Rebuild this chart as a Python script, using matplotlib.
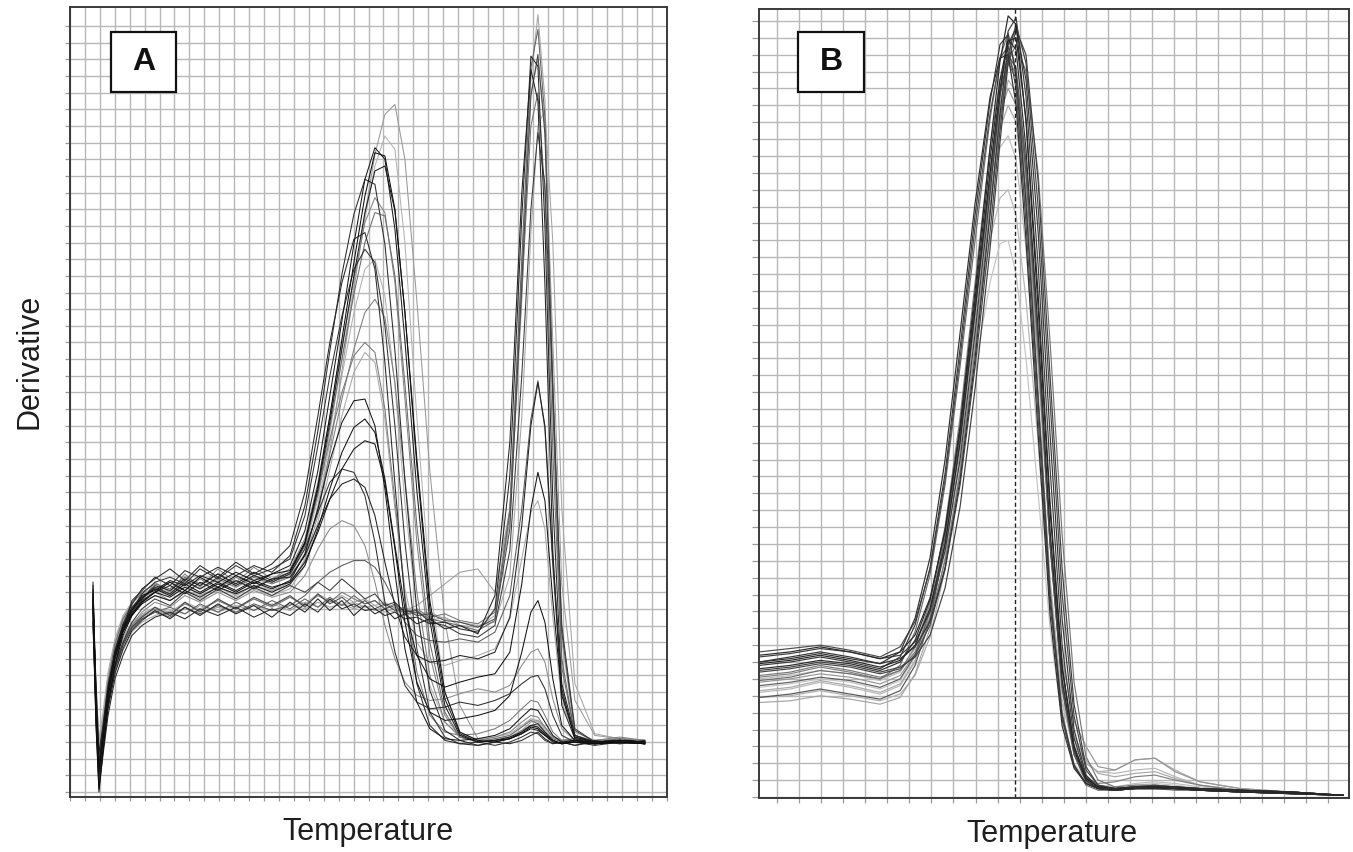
import matplotlib
matplotlib.use("Agg")
import matplotlib.pyplot as plt
from matplotlib.patches import Rectangle

W, H = 1353, 852

# panel A: temperature in grid columns, derivative in grid rows
temp_a = [1.54, 1.74, 1.94, 2.21, 2.55, 3.01, 3.55, 4.15, 4.82, 5.69, 6.70, 7.70, 8.71, 9.91, 11.12,
          12.32, 13.53, 14.74, 15.74, 16.61, 17.41, 18.22, 19.02, 19.76, 20.43, 21.10, 21.77, 22.44,
          23.24, 24.11, 25.12, 26.12, 27.33, 28.47, 29.47, 30.27, 30.88, 31.35, 31.82, 32.35, 32.95,
          33.83, 35.16, 36.84, 38.51]

a01 = [11.2, 6.1, 1.6, 3.4, 6.1, 8.5, 10.0, 10.9, 11.8, 12.1, 12.7, 12.4, 13.0, 12.6, 13.2, 12.7, 13.1, 13.6, 15.7, 19.3, 23.8, 28.3, 32.9, 36.8, 38.7, 38.0, 33.8, 27.1, 18.1, 10.3, 5.2, 3.4, 3.0, 3.1, 3.2, 3.5, 3.8, 3.7, 3.4, 3.1, 2.9, 3.1, 2.9, 3.1, 3.0]
a02 = [12.1, 4.9, 0.4, 2.5, 5.5, 7.6, 9.7, 11.5, 12.1, 12.9, 12.4, 13.3, 12.9, 13.5, 13.0, 13.6, 13.2, 14.2, 17.2, 21.7, 26.5, 31.1, 34.7, 36.8, 36.5, 32.9, 26.5, 18.7, 10.9, 6.1, 3.7, 3.1, 2.8, 3.0, 2.9, 3.1, 3.4, 3.6, 3.2, 2.9, 3.0, 2.8, 3.1, 2.9, 3.1]
a03 = [10.5, 5.0, 2.2, 3.9, 6.6, 8.9, 10.4, 11.3, 12.0, 12.5, 12.2, 12.9, 12.5, 13.1, 12.4, 13.0, 12.6, 13.1, 14.8, 17.9, 21.9, 26.0, 29.9, 33.0, 34.8, 34.6, 31.0, 24.5, 16.0, 9.0, 4.8, 3.3, 3.0, 3.2, 3.4, 3.9, 4.3, 4.1, 3.6, 3.2, 3.0, 3.1, 3.0, 3.2, 3.0]
a04 = [11.5, 6.7, 2.5, 4.0, 6.7, 8.8, 10.3, 11.2, 11.7, 12.0, 11.5, 12.1, 11.8, 12.3, 11.8, 12.4, 12.1, 12.6, 13.9, 16.6, 20.5, 25.3, 30.2, 34.7, 38.3, 40.7, 41.3, 38.0, 29.5, 19.3, 10.3, 5.2, 3.2, 3.1, 3.3, 3.7, 4.2, 4.3, 3.9, 3.3, 3.1, 3.2, 3.0, 3.2, 3.1]
a05 = [11.8, 4.5, 0.9, 3.0, 5.9, 8.0, 9.9, 11.0, 11.9, 12.6, 12.9, 12.5, 13.4, 12.8, 13.6, 13.0, 13.4, 14.0, 16.6, 20.8, 25.0, 28.6, 31.4, 32.6, 31.8, 28.0, 22.0, 15.0, 8.6, 4.8, 3.3, 2.9, 3.0, 2.8, 3.0, 3.3, 3.6, 3.5, 3.1, 2.9, 3.0, 2.8, 3.0, 2.9, 3.0]
a06 = [10.8, 5.6, 1.9, 3.6, 6.3, 8.6, 10.1, 11.1, 11.6, 12.2, 11.9, 12.6, 12.2, 12.8, 12.3, 12.9, 12.5, 12.9, 14.3, 17.0, 20.3, 23.6, 26.6, 28.8, 29.6, 28.5, 24.6, 18.8, 12.0, 7.0, 4.2, 3.3, 3.1, 3.3, 3.6, 4.2, 4.6, 4.5, 3.9, 3.3, 3.1, 3.2, 3.1, 3.3, 3.1]
a07 = [10.6, 5.5, 1.3, 2.8, 5.2, 7.2, 8.5, 9.6, 10.2, 10.6, 10.9, 10.7, 11.2, 10.8, 11.2, 10.9, 11.3, 10.9, 11.4, 11.1, 11.5, 11.2, 11.4, 11.1, 11.2, 10.8, 11.1, 10.6, 10.8, 10.3, 10.5, 10.0, 9.9, 10.6, 16.3, 29.5, 42.8, 46.7, 41.6, 24.7, 9.1, 3.6, 3.1, 3.2, 3.1]
a08 = [10.1, 4.2, 0.2, 2.2, 4.6, 6.8, 8.2, 9.4, 10.0, 10.5, 10.8, 10.4, 11.0, 10.6, 11.1, 10.5, 11.0, 10.6, 11.3, 10.8, 11.6, 11.0, 11.3, 10.9, 11.0, 10.6, 10.8, 10.4, 10.5, 10.1, 10.2, 9.8, 9.6, 11.0, 19.0, 34.5, 44.2, 43.6, 34.0, 17.5, 6.2, 3.2, 2.9, 3.0, 2.9]
a09 = [11.0, 5.9, 2.0, 3.5, 5.8, 7.7, 9.0, 10.0, 10.6, 11.0, 10.7, 11.3, 10.9, 11.5, 11.0, 11.6, 11.1, 11.7, 11.2, 11.8, 11.4, 12.0, 11.6, 11.3, 11.5, 11.0, 11.3, 10.8, 11.0, 10.5, 10.7, 10.3, 10.1, 10.8, 17.0, 30.0, 40.0, 42.0, 36.0, 20.5, 7.5, 3.4, 3.0, 3.1, 3.0]
a10 = [12.0, 5.0, 1.0, 3.0, 5.4, 7.4, 9.0, 10.2, 11.0, 11.6, 11.2, 12.0, 11.5, 12.2, 11.6, 12.3, 11.8, 12.4, 12.0, 12.6, 12.1, 12.8, 12.2, 11.6, 11.9, 11.2, 11.4, 10.8, 10.9, 10.2, 10.0, 9.5, 9.3, 10.0, 14.5, 25.0, 35.0, 39.6, 36.5, 24.0, 10.0, 3.8, 3.0, 3.1, 3.0]
a11 = [11.5, 5.2, 1.2, 3.2, 5.8, 8.0, 9.6, 10.6, 11.3, 11.8, 11.5, 12.1, 11.7, 12.3, 11.9, 12.4, 12.0, 12.5, 13.6, 15.8, 18.2, 20.4, 21.9, 22.4, 21.6, 18.8, 14.8, 11.0, 8.2, 6.8, 6.3, 6.6, 6.9, 7.1, 8.4, 12.5, 17.0, 19.2, 17.5, 11.5, 5.8, 3.3, 3.0, 3.1, 3.0]
a12 = [12.4, 6.3, 2.3, 4.0, 6.4, 8.4, 9.8, 10.7, 11.5, 12.0, 12.4, 11.9, 12.6, 12.1, 12.7, 12.2, 12.8, 12.9, 14.2, 16.0, 17.6, 18.5, 18.8, 18.3, 16.6, 13.8, 11.2, 9.3, 8.2, 7.8, 7.9, 8.2, 8.0, 8.4, 10.5, 16.0, 22.0, 24.6, 22.0, 14.0, 6.5, 3.4, 3.0, 3.1, 3.0]
a13 = [11.2, 4.8, 0.6, 2.7, 5.2, 7.3, 8.8, 10.0, 10.8, 11.4, 11.1, 11.8, 11.4, 12.0, 11.5, 12.1, 11.7, 12.0, 13.0, 14.6, 15.8, 16.3, 16.0, 14.8, 12.6, 10.0, 8.0, 6.6, 5.8, 5.5, 5.6, 5.9, 6.2, 6.0, 6.4, 7.6, 8.4, 8.6, 7.8, 5.6, 3.8, 3.1, 2.9, 3.0, 2.9]
a14 = [11.6, 5.4, 1.4, 3.3, 5.9, 8.1, 9.7, 10.7, 11.4, 12.0, 11.7, 12.3, 11.9, 12.5, 12.0, 12.6, 12.2, 12.7, 14.3, 17.0, 19.9, 22.2, 23.5, 23.6, 22.0, 18.2, 13.2, 8.6, 5.4, 3.8, 3.2, 3.1, 3.2, 3.4, 3.8, 4.5, 5.0, 4.9, 4.2, 3.4, 3.0, 3.1, 3.0, 3.1, 3.0]
a15 = [10.4, 6.0, 2.6, 4.0, 6.2, 8.0, 9.2, 10.1, 10.5, 10.9, 10.6, 11.0, 10.7, 11.1, 10.8, 11.2, 10.9, 11.3, 11.0, 11.4, 11.1, 11.3, 11.0, 11.2, 10.9, 11.0, 10.8, 10.9, 11.2, 11.8, 12.5, 13.2, 13.4, 12.0, 17.0, 31.5, 42.0, 44.0, 40.0, 27.0, 12.5, 5.5, 3.4, 3.2, 3.1]
a16 = [11.0, 6.4, 2.8, 4.4, 7.0, 9.1, 10.5, 11.4, 11.9, 12.3, 12.0, 12.6, 12.2, 12.7, 12.3, 12.8, 12.5, 13.0, 14.6, 17.6, 21.6, 26.0, 30.4, 34.4, 37.6, 39.4, 38.6, 33.0, 22.5, 12.5, 6.0, 3.6, 3.1, 3.2, 3.4, 3.9, 4.4, 4.2, 3.7, 3.2, 3.0, 3.1, 3.0, 3.2, 3.0]
a17 = [11.0, 4.0, 0.0, 2.4, 5.2, 7.6, 9.4, 10.6, 11.4, 12.0, 12.6, 12.1, 12.9, 12.3, 13.0, 12.5, 13.1, 13.3, 15.0, 18.4, 22.6, 27.2, 31.8, 35.8, 38.4, 38.2, 35.0, 28.8, 20.0, 11.5, 6.0, 3.6, 3.1, 3.0, 3.2, 3.5, 3.9, 3.8, 3.4, 3.0, 2.9, 3.0, 2.9, 3.0, 2.9]
a18 = [10.8, 5.0, 1.6, 3.2, 5.6, 7.6, 8.9, 9.8, 10.4, 10.8, 11.1, 10.7, 11.3, 10.8, 11.4, 10.9, 11.5, 11.0, 11.6, 11.1, 11.7, 11.2, 11.8, 11.3, 11.5, 11.0, 11.2, 10.7, 10.8, 10.4, 10.2, 10.0, 9.7, 10.3, 16.8, 32.0, 43.5, 45.8, 40.5, 23.0, 8.0, 3.4, 3.0, 3.1, 3.0]
a19 = [10.6, 6.2, 2.9, 4.5, 6.9, 8.7, 10.0, 10.9, 11.4, 11.8, 11.5, 12.0, 11.6, 12.1, 11.7, 12.2, 11.8, 12.2, 13.6, 16.2, 19.4, 22.6, 25.2, 26.4, 25.8, 22.4, 17.0, 12.2, 9.0, 7.8, 7.6, 7.9, 8.2, 8.6, 10.4, 14.0, 16.8, 17.5, 15.8, 10.5, 5.4, 3.4, 3.1, 3.2, 3.1]
a20 = [12.2, 5.8, 1.8, 3.7, 6.2, 8.2, 9.7, 10.8, 11.6, 12.3, 11.9, 12.7, 12.2, 12.9, 12.4, 13.0, 12.6, 13.1, 14.6, 16.8, 18.6, 19.4, 19.2, 17.8, 15.0, 11.4, 8.4, 6.4, 5.4, 5.0, 5.1, 5.4, 5.2, 5.5, 5.9, 6.5, 6.9, 7.0, 6.2, 4.6, 3.4, 3.0, 2.9, 3.0, 2.9]
a21 = [11.4, 5.8, 1.0, 3.1, 5.7, 8.2, 9.6, 11.0, 11.5, 12.6, 12.0, 13.1, 12.3, 13.4, 12.6, 13.5, 12.8, 13.4, 15.2, 18.6, 22.5, 26.8, 30.8, 34.2, 35.7, 34.8, 30.6, 23.6, 15.0, 8.2, 4.6, 3.3, 3.0, 3.1, 3.3, 3.7, 4.0, 3.9, 3.5, 3.1, 2.9, 3.0, 2.9, 3.1, 3.0]
a22 = [12.6, 5.0, 0.8, 2.9, 5.8, 8.3, 10.1, 11.3, 12.2, 12.8, 13.4, 12.7, 13.6, 12.9, 13.8, 13.1, 13.7, 14.8, 18.0, 22.6, 27.0, 30.6, 33.2, 33.6, 31.4, 25.8, 18.5, 11.5, 6.5, 4.0, 3.1, 2.9, 2.8, 3.0, 3.2, 3.6, 4.0, 4.1, 3.6, 3.1, 2.9, 3.0, 2.8, 3.0, 2.9]
a23 = [10.3, 4.6, 0.9, 2.6, 5.0, 7.1, 8.6, 9.7, 10.3, 10.9, 10.4, 11.1, 10.6, 11.3, 10.7, 11.2, 10.5, 11.4, 10.8, 11.6, 10.9, 11.5, 10.6, 11.2, 10.7, 11.0, 10.4, 10.7, 10.1, 10.4, 9.8, 10.0, 9.5, 11.8, 21.0, 36.0, 43.4, 41.5, 30.5, 14.5, 5.2, 3.2, 3.0, 3.1, 3.0]
a24 = [10.9, 6.3, 3.0, 4.2, 6.3, 8.1, 9.3, 10.2, 10.7, 11.1, 10.8, 11.4, 11.0, 11.5, 11.1, 11.6, 11.2, 11.7, 11.3, 11.9, 11.5, 11.8, 11.4, 11.6, 11.2, 11.4, 11.0, 11.1, 10.7, 10.8, 10.4, 10.2, 10.0, 10.2, 13.0, 22.5, 33.5, 40.0, 41.0, 33.0, 17.0, 6.5, 3.5, 3.2, 3.1]
a25 = [11.9, 5.5, 1.5, 3.5, 6.0, 8.2, 9.8, 10.9, 11.7, 12.2, 11.8, 12.5, 12.0, 12.6, 12.1, 12.7, 12.3, 12.6, 13.8, 15.6, 17.6, 19.4, 20.6, 21.1, 20.9, 18.6, 14.6, 10.2, 6.6, 4.8, 4.3, 4.4, 4.6, 4.9, 5.8, 8.4, 10.8, 11.5, 10.2, 6.8, 4.0, 3.1, 2.9, 3.0, 2.9]
a26 = [11.3, 6.0, 2.1, 3.8, 6.4, 8.6, 10.1, 11.0, 11.8, 12.2, 12.6, 12.1, 12.8, 12.2, 12.9, 12.3, 12.8, 13.2, 15.0, 18.0, 21.2, 24.0, 26.2, 27.0, 26.4, 23.0, 17.5, 11.8, 7.2, 4.6, 3.6, 3.4, 3.5, 3.8, 4.3, 5.0, 5.5, 5.4, 4.6, 3.6, 3.1, 3.1, 3.0, 3.1, 3.0]
a27 = [10.2, 5.2, 1.7, 3.3, 5.6, 7.6, 8.9, 9.9, 10.4, 10.8, 10.5, 11.1, 10.7, 11.2, 10.8, 11.3, 10.9, 11.2, 11.8, 12.6, 13.2, 13.6, 13.9, 13.9, 13.5, 12.6, 11.4, 10.2, 9.4, 9.1, 9.0, 9.2, 9.0, 9.6, 11.8, 17.0, 22.4, 24.7, 21.8, 13.5, 6.0, 3.3, 3.0, 3.1, 3.0]
a28 = [11.7, 5.7, 1.1, 3.2, 6.0, 8.3, 9.9, 11.1, 11.6, 12.4, 12.1, 12.8, 12.4, 13.1, 12.5, 13.2, 12.7, 13.2, 14.9, 18.2, 22.2, 26.6, 31.0, 34.8, 37.3, 37.6, 34.9, 28.8, 19.6, 11.0, 5.6, 3.5, 3.0, 3.1, 3.3, 3.6, 4.0, 3.9, 3.5, 3.1, 2.9, 3.0, 2.9, 3.0, 2.9]
a29 = [11.3, 5.3, 1.2, 3.0, 5.4, 7.4, 8.8, 9.9, 10.5, 11.1, 10.6, 11.4, 10.8, 11.6, 11.0, 11.7, 11.2, 11.8, 11.1, 11.9, 11.3, 11.7, 11.1, 11.5, 11.0, 11.3, 10.9, 11.0, 10.6, 10.7, 10.3, 10.2, 9.9, 10.4, 15.8, 30.5, 41.8, 44.3, 39.5, 24.5, 9.6, 3.7, 3.0, 3.1, 3.0]
a30 = [10.9, 6.6, 3.2, 4.8, 7.2, 9.2, 10.6, 11.4, 11.9, 12.1, 11.8, 12.4, 11.9, 12.5, 12.0, 12.6, 12.1, 12.4, 14.0, 17.2, 21.0, 25.0, 28.8, 31.4, 32.0, 29.8, 24.4, 17.4, 10.8, 6.4, 4.2, 3.4, 3.2, 3.3, 3.5, 4.0, 4.4, 4.3, 3.8, 3.3, 3.1, 3.2, 3.1, 3.2, 3.1]

# panel B
temp_b = [-0.82, 0.59, 1.95, 3.31, 4.67, 5.58, 6.26, 6.94, 7.62, 8.30, 8.98, 9.66, 10.11, 10.48, 10.84,
          11.29, 11.84, 12.38, 12.93, 13.47, 14.01, 14.56, 15.33, 16.24, 17.14, 18.05, 19.18, 21.00,
          23.27, 25.67]

b01 = [7.6, 7.8, 8.1, 7.9, 7.5, 8.0, 9.3, 11.7, 15.8, 21.7, 29.5, 37.8, 42.5, 44.9, 44.3, 38.4, 27.7, 15.8, 6.9, 2.8, 1.0, 0.5, 0.4, 0.5, 0.5, 0.5, 0.4, 0.3, 0.25, 0.1]
b02 = [8.3, 8.5, 8.8, 8.6, 8.2, 8.4, 9.2, 11.0, 14.6, 20.0, 27.5, 35.8, 41.5, 45.4, 46.2, 41.5, 31.5, 19.5, 9.0, 3.5, 1.2, 0.6, 0.5, 0.6, 0.7, 0.6, 0.5, 0.4, 0.3, 0.1]
b03 = [6.9, 7.1, 7.5, 7.3, 7.0, 7.8, 9.8, 13.2, 18.5, 25.5, 33.0, 40.2, 43.8, 45.3, 43.0, 35.5, 24.0, 12.5, 5.0, 1.9, 0.7, 0.4, 0.4, 0.5, 0.5, 0.4, 0.4, 0.3, 0.2, 0.1]
b04 = [5.9, 6.0, 6.3, 6.0, 5.7, 6.1, 7.2, 9.5, 13.5, 19.5, 27.0, 35.0, 40.0, 42.5, 41.8, 36.5, 26.5, 15.0, 7.0, 3.4, 2.0, 1.5, 1.6, 2.2, 2.3, 1.6, 0.9, 0.5, 0.3, 0.1]
b05 = [8.0, 8.3, 8.6, 8.3, 7.9, 8.2, 8.9, 10.4, 13.6, 18.8, 26.0, 34.5, 40.5, 44.6, 45.6, 42.5, 33.5, 21.5, 10.5, 4.0, 1.3, 0.6, 0.5, 0.6, 0.6, 0.6, 0.5, 0.4, 0.3, 0.1]
b06 = [7.1, 7.3, 7.7, 7.4, 7.0, 7.5, 8.9, 11.5, 16.0, 22.5, 30.5, 38.5, 42.5, 43.8, 42.8, 37.0, 26.5, 15.0, 6.5, 2.7, 1.1, 0.8, 0.9, 1.2, 1.3, 1.0, 0.7, 0.4, 0.3, 0.1]
b07 = [6.5, 6.7, 7.0, 6.8, 6.4, 6.9, 8.3, 10.8, 14.8, 20.0, 25.5, 30.5, 32.8, 33.0, 31.0, 26.0, 18.0, 10.0, 4.5, 2.0, 1.0, 0.7, 0.6, 0.7, 0.8, 0.7, 0.5, 0.4, 0.3, 0.1]
b08 = [6.2, 6.4, 6.8, 6.5, 6.1, 6.6, 8.0, 10.6, 15.0, 21.0, 27.5, 33.0, 35.5, 36.0, 34.5, 29.5, 21.0, 11.5, 5.5, 3.0, 2.0, 1.5, 1.4, 1.6, 1.7, 1.2, 0.7, 0.4, 0.3, 0.1]
b09 = [8.6, 8.8, 9.0, 8.7, 8.3, 8.9, 10.4, 13.5, 18.8, 26.0, 33.8, 40.5, 43.8, 44.5, 42.0, 34.0, 22.5, 11.5, 4.6, 1.8, 0.8, 0.5, 0.4, 0.5, 0.5, 0.5, 0.4, 0.3, 0.2, 0.1]
b10 = [6.8, 7.0, 7.3, 7.1, 6.7, 7.2, 8.5, 11.2, 15.6, 21.8, 29.0, 36.2, 40.5, 42.0, 41.0, 35.8, 26.0, 15.5, 8.2, 4.5, 3.0, 1.8, 1.6, 2.2, 2.3, 1.5, 0.9, 0.5, 0.3, 0.1]
b11 = [7.9, 8.1, 8.4, 8.1, 7.7, 8.1, 9.0, 11.2, 15.0, 21.0, 28.8, 37.0, 42.0, 44.8, 45.0, 40.2, 29.8, 17.5, 7.8, 3.0, 1.1, 0.6, 0.5, 0.6, 0.6, 0.6, 0.5, 0.4, 0.3, 0.1]
b12 = [5.6, 5.7, 6.0, 5.8, 5.5, 5.9, 7.3, 10.0, 14.2, 20.5, 28.0, 36.0, 41.0, 43.5, 43.0, 37.5, 27.0, 15.5, 7.0, 3.0, 1.2, 0.6, 0.5, 0.6, 0.7, 0.6, 0.5, 0.4, 0.3, 0.1]
b13 = [7.4, 7.6, 7.9, 7.7, 7.3, 7.6, 8.4, 10.2, 13.5, 18.5, 25.5, 33.5, 39.5, 44.0, 45.8, 43.5, 35.0, 23.5, 12.0, 4.8, 1.6, 0.7, 0.5, 0.6, 0.6, 0.5, 0.5, 0.4, 0.3, 0.1]
b14 = [7.0, 7.2, 7.5, 7.3, 6.9, 7.4, 8.8, 11.5, 16.0, 22.2, 29.5, 35.8, 38.5, 39.2, 37.8, 32.5, 23.5, 13.0, 5.8, 2.5, 1.1, 0.7, 0.6, 0.8, 0.9, 0.8, 0.6, 0.4, 0.3, 0.1]
b15 = [8.0, 8.2, 8.5, 8.2, 7.9, 8.6, 10.6, 14.2, 20.0, 27.5, 35.2, 41.5, 43.8, 44.0, 41.0, 33.0, 21.5, 10.8, 4.2, 1.7, 0.8, 0.5, 0.4, 0.5, 0.5, 0.5, 0.4, 0.3, 0.2, 0.1]
b16 = [7.5, 7.7, 8.0, 7.8, 7.4, 7.7, 8.3, 9.6, 12.4, 17.2, 24.2, 32.5, 38.8, 43.5, 45.5, 44.0, 36.5, 25.0, 13.5, 5.5, 1.8, 0.7, 0.5, 0.6, 0.6, 0.5, 0.5, 0.4, 0.3, 0.1]
b17 = [6.6, 6.8, 7.1, 6.9, 6.5, 7.0, 8.4, 11.0, 15.4, 21.6, 29.2, 37.0, 41.8, 43.5, 42.6, 37.0, 26.8, 15.2, 6.6, 2.6, 1.0, 0.5, 0.4, 0.5, 0.6, 0.5, 0.4, 0.3, 0.2, 0.1]
b18 = [6.3, 6.5, 6.9, 6.6, 6.2, 6.7, 8.1, 10.7, 15.0, 21.0, 28.2, 35.5, 39.6, 41.0, 40.0, 34.8, 25.5, 15.0, 7.5, 3.6, 2.2, 1.4, 1.2, 1.4, 1.5, 1.1, 0.7, 0.4, 0.3, 0.1]
b19 = [8.4, 8.6, 8.9, 8.6, 8.2, 8.6, 9.6, 11.8, 15.8, 22.0, 30.0, 38.5, 43.6, 46.3, 45.8, 40.0, 29.0, 17.0, 7.6, 3.0, 1.1, 0.6, 0.5, 0.5, 0.6, 0.5, 0.4, 0.3, 0.2, 0.1]
b20 = [7.2, 7.4, 7.8, 7.5, 7.1, 7.5, 8.6, 10.6, 14.0, 19.2, 26.5, 34.8, 40.2, 43.6, 44.6, 43.0, 37.0, 27.0, 15.5, 6.8, 2.4, 1.0, 0.6, 0.7, 0.7, 0.6, 0.5, 0.4, 0.3, 0.1]
b21 = [5.9, 6.1, 6.4, 6.1, 5.8, 6.3, 7.8, 10.5, 15.0, 21.2, 28.8, 36.5, 41.6, 44.0, 43.2, 37.6, 27.0, 15.0, 6.4, 2.5, 0.9, 0.5, 0.4, 0.5, 0.5, 0.5, 0.4, 0.3, 0.2, 0.1]
b22 = [7.8, 8.0, 8.3, 8.0, 7.6, 8.3, 10.2, 13.6, 19.2, 26.6, 34.5, 41.2, 44.6, 45.2, 42.8, 35.2, 23.5, 12.0, 4.8, 1.9, 0.8, 0.5, 0.4, 0.5, 0.5, 0.5, 0.4, 0.3, 0.2, 0.1]

cursor_b = 10.79

curves_a = [(a16, "#b4b4b4"), (a30, "#b0b0b0"), (a19, "#a8a8a8"), (a24, "#a6a6a6"), (a07, "#a4a4a4"),
            (a15, "#9c9c9c"), (a04, "#989898"), (a13, "#8a8a8a"), (a21, "#848484"), (a06, "#7e7e7e"),
            (a26, "#787878"), (a09, "#747474"), (a03, "#6c6c6c"), (a18, "#626262"), (a27, "#5a5a5a"),
            (a29, "#484848"), (a10, "#3a3a3a"), (a05, "#333333"), (a20, "#2e2e2e"), (a02, "#2a2a2a"),
            (a22, "#282828"), (a08, "#262626"), (a23, "#222222"), (a12, "#202020"), (a28, "#1c1c1c"),
            (a01, "#1a1a1a"), (a14, "#151515"), (a25, "#131313"), (a11, "#111111"), (a17, "#0d0d0d")]
curves_b = [(b07, "#c4c4c4"), (b14, "#bdbdbd"), (b08, "#b6b6b6"), (b04, "#adadad"), (b18, "#a8a8a8"),
            (b12, "#a3a3a3"), (b10, "#959595"), (b06, "#808080"), (b20, "#777777"), (b03, "#6e6e6e"),
            (b17, "#5e5e5e"), (b21, "#555555"), (b09, "#4c4c4c"), (b13, "#454545"), (b16, "#404040"),
            (b02, "#3c3c3c"), (b22, "#383838"), (b05, "#343434"), (b15, "#2e2e2e"), (b01, "#2a2a2a"),
            (b19, "#282828"), (b11, "#262626")]

plt.rcParams['font.family'] = ['Liberation Sans', 'DejaVu Sans']

fig = plt.figure(figsize=(W / 100, H / 100), dpi=100)


def px_rect(left, top, right, bottom):
    return [left / W, 1 - bottom / H, (right - left) / W, (bottom - top) / H]


def style(ax, xlim, ylim, nx, ny, ylen, xlen):
    ax.set_xlim(*xlim)
    ax.set_ylim(*ylim)
    ax.set_xticks(range(0, nx + 1))
    ax.set_yticks(range(0, ny + 1))
    ax.grid(True, color="#b8b8b8", linewidth=1.0)
    ax.set_axisbelow(True)
    ax.tick_params(labelleft=False, labelbottom=False, direction="out", color="#9a9a9a", width=0.9)
    ax.tick_params(axis="y", length=ylen)
    ax.tick_params(axis="x", length=xlen)
    for s in ax.spines.values():
        s.set_color("#3a3a3a")
        s.set_linewidth(1.4)


ax_a = fig.add_axes(px_rect(70, 7, 667, 797))
style(ax_a, (0, 40), (-0.30, 47.15), 40, 46, 3.6, 3.0)
for ys, c in curves_a:
    ax_a.plot(temp_a, ys, color=c, linewidth=0.75)

ax_b = fig.add_axes(px_rect(759, 9, 1349, 798))
style(ax_b, (-0.82, 25.94), (-0.06, 46.71), 25, 46, 5.0, 3.6)
for ys, c in curves_b:
    ax_b.plot(temp_b, ys, color=c, linewidth=0.85)
ax_b.axvline(cursor_b, color="#222222", linewidth=1.0, linestyle=(0, (3, 2)))

fig.text(30 / W, 1 - 361 / H, "Derivative", rotation=90, ha="center", va="center", fontsize=22, color="#1e1e1e")
fig.text(368 / W, 1 - 832 / H, "Temperature", ha="center", va="center", fontsize=22, color="#1e1e1e")
fig.text(1052 / W, 1 - 834 / H, "Temperature", ha="center", va="center", fontsize=22, color="#1e1e1e")

for (l, t, r, b), letter in [((111, 32, 176, 92), "A"), ((798, 32, 864, 92), "B")]:
    fig.add_artist(Rectangle((l / W, 1 - b / H), (r - l) / W, (b - t) / H, transform=fig.transFigure,
                             facecolor="white", edgecolor="#111111", linewidth=1.6, zorder=5))
    fig.text((l + r) / 2 / W, 1 - (t + b) / 2 / H, letter, ha="center", va="center", fontsize=23,
             fontweight="bold", color="#111111", zorder=6)

fig.savefig("out.png", dpi=100)
